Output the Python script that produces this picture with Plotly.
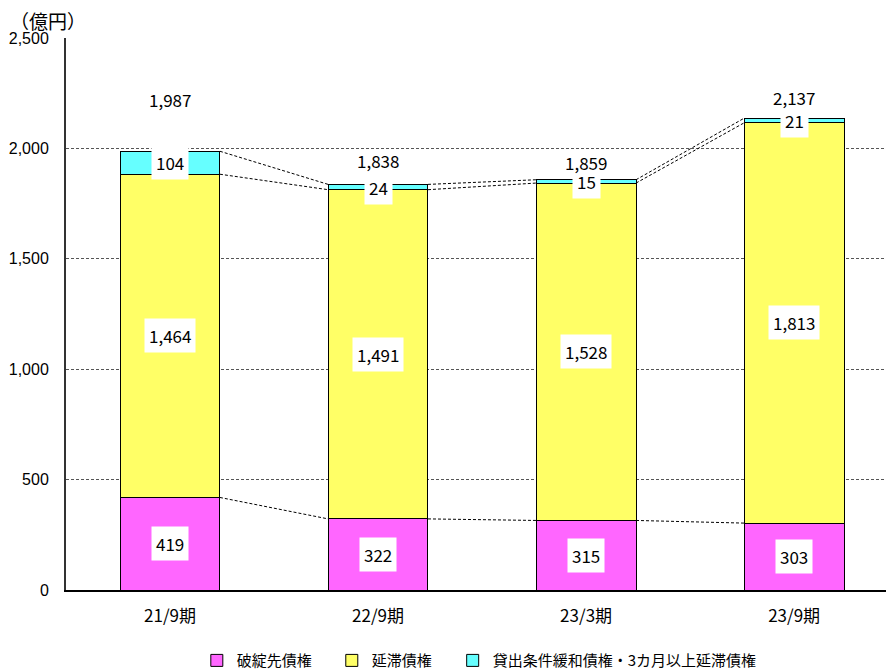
import plotly.graph_objects as go

categories = ["21/9期", "22/9期", "23/3期", "23/9期"]
series_names = ["破綻先債権", "延滞債権", "貸出条件緩和債権・3カ月以上延滞債権"]
hatan = [419, 322, 315, 303]
entai = [1464, 1491, 1528, 1813]
kanwa = [104, 24, 15, 21]
totals = [1987, 1838, 1859, 2137]
colors = ["#FF66FF", "#FFFF66", "#66FFFF"]
y_ticks = [0, 500, 1000, 1500, 2000, 2500]

total_shift = [52, 24, 17, 21]
legend_x = [0.158, 0.321, 0.467]

JP = "Noto Sans CJK JP"
BW = 0.48
xs = list(range(len(categories)))

fig = go.Figure()
series = [hatan, entai, kanwa]
legend_ids = ["legend", "legend2", "legend3"]
for name, vals, col, lg in zip(series_names, series, colors, legend_ids):
    fig.add_trace(go.Bar(x=xs, y=vals, name=name, width=BW, legend=lg,
                         marker=dict(color=col, line=dict(color="black", width=1))))

# cumulative tops
cum = []
run = [0] * len(xs)
for vals in series:
    run = [r + v for r, v in zip(run, vals)]
    cum.append(list(run))

# connector lines
for tops in cum:
    for i in range(len(xs) - 1):
        fig.add_trace(go.Scatter(x=[xs[i] + BW / 2, xs[i + 1] - BW / 2],
                                 y=[tops[i], tops[i + 1]], mode="lines",
                                 line=dict(color="black", width=1, dash="3px,2px"),
                                 showlegend=False, hoverinfo="skip"))

annotations = []
base = [0] * len(xs)
for vals in series:
    for i, v in enumerate(vals):
        annotations.append(dict(x=xs[i], y=base[i] + v / 2, text=f"{v:,}", showarrow=False,
                                bgcolor="white", borderpad=4,
                                font=dict(family=JP, size=17, color="black")))
    base = [b + v for b, v in zip(base, vals)]

for i, t in enumerate(totals):
    annotations.append(dict(x=xs[i], y=base[i], text=f"{t:,}", showarrow=False,
                            yshift=total_shift[i],
                            font=dict(family=JP, size=17, color="black")))

annotations.append(dict(xref="paper", yref="paper", x=0, xshift=-58, y=1.0, yshift=18,
                        xanchor="left", yanchor="middle", text="（億円）", showarrow=False,
                        font=dict(family=JP, size=19, color="black")))

leg_common = dict(orientation="h", y=-0.128, yanchor="middle", xanchor="left",
                  bgcolor="rgba(0,0,0,0)",
                  font=dict(family=JP, size=15, color="black"))
fig.update_layout(
    width=886, height=661,
    margin=dict(l=58, r=0, t=30, b=79, autoexpand=False),
    plot_bgcolor="white", paper_bgcolor="white",
    barmode="stack",
    annotations=annotations,
    legend=dict(x=legend_x[0], **leg_common),
    legend2=dict(x=legend_x[1], **leg_common),
    legend3=dict(x=legend_x[2], **leg_common),
    xaxis=dict(range=[-0.5, 3.48], tickvals=xs, ticktext=categories, showgrid=False,
               tickfont=dict(family=JP, size=17, color="black"), ticks="",
               showline=True, linecolor="black", linewidth=2, ticklabelstandoff=10,
               zeroline=False, automargin=False),
    yaxis=dict(range=[0, 2500], tickvals=y_ticks, tickformat=",",
               tickfont=dict(family="Liberation Sans", size=16, color="black"),
               showgrid=True, gridcolor="#555555", griddash="3px,2px", gridwidth=1,
               showline=True, linecolor="#333333", linewidth=2, ticks="",
               ticklabelstandoff=12, zeroline=False, automargin=False),
)

fig.write_html("out.html")
